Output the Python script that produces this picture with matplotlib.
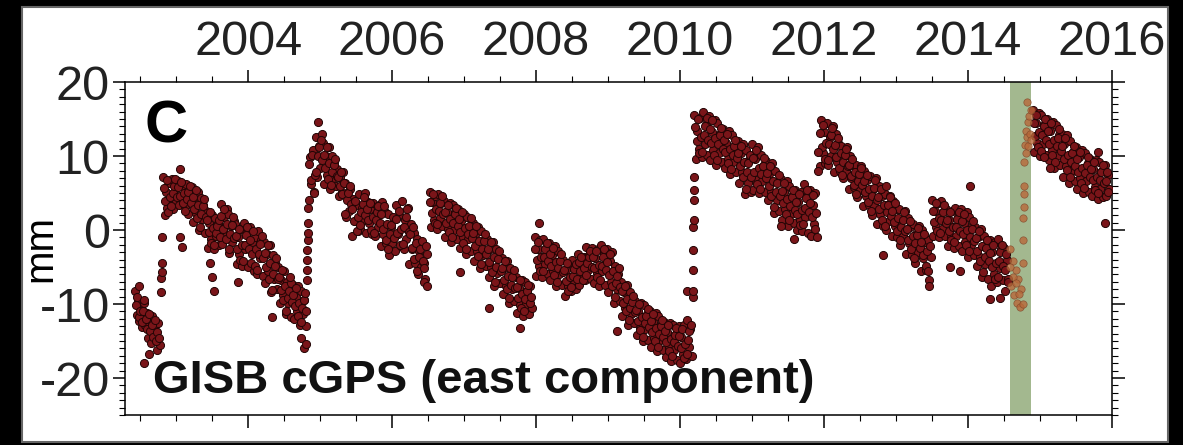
import numpy as np
import matplotlib
matplotlib.use('Agg')
import matplotlib.pyplot as plt
from matplotlib.ticker import MultipleLocator
from matplotlib.patches import Rectangle

plt.rcParams['font.family'] = ['Liberation Sans', 'DejaVu Sans']

# GISB cGPS east component (mm).
# Each segment has two interleaved sample sets (~0.02 yr spacing each).
a_span = (2002.43, 2002.77)
a_east = [-8.2, -11.5, -9.6, -12.3, -10.4, -13.1, -9.9, -12.8, -11.2, -14.6,
          -12.0, -15.3, -11.6, -14.1, -13.0, -16.2, -12.5, -15.6]
a2_span = (2002.44, 2002.76)
a2_east = [-10.2, -9.0, -11.8, -10.9, -12.4, -11.0, -9.4, -12.0, -13.4, -11.4,
           -13.6, -12.8, -14.4, -12.2, -15.0, -13.8, -14.6]

b_span = (2002.82, 2004.80)
b_east = [7.2, 2.0, 5.1, 3.0, 6.3, 4.2, 6.9, 2.8, 5.6, 3.9,
          6.6, 3.4, 8.2, 4.6, 5.8, 3.1, 6.2, 2.2, 5.0, 4.0,
          5.8, 1.1, 4.4, 2.3, 5.2, 0.0, 4.3, 1.5, 3.4, -0.4,
          2.6, -2.4, 1.0, -1.2, 2.0, -2.5, 1.6, -0.8, 0.8, -2.0,
          3.5, -1.9, 1.8, -0.6, 2.9, 2.2, -3.1, 0.6, -1.6, 1.2,
          0.8, -4.6, -1.0, -3.2, 0.2, -4.8, 1.0, -2.6, -0.4, -5.0,
          0.4, -4.4, -1.6, -5.6, -0.9, -5.9, -0.2, -3.8, -1.4, -6.2,
          -1.6, -7.2, -3.3, -5.6, -2.0, -8.4, -3.4, -6.6, -4.5, -8.0,
          -5.0, -9.9, -6.8, -8.8, -5.6, -11.4, -7.0, -9.8, -8.0, -11.8,
          -7.4, -12.0, -9.0, -11.0, -7.6, -12.8, -8.2, -11.4, -9.4, -13.0]
b2_span = (2002.83, 2004.81)
b2_east = [5.7, 3.9, 6.8, 2.4, 4.5, 3.2, 5.0, 6.0, 6.9, 4.5,
           5.8, 4.6, 6.5, 3.6, 5.0, 2.6, 4.2, 5.1, 5.9, 3.7,
           4.4, 2.9, 5.4, 1.6, 3.4, 0.4, 2.2, 3.2, 4.2, 1.7,
           1.4, -0.3, 2.4, -1.7, 0.3, -2.0, -0.4, 0.5, 1.3, -0.9,
           1.9, 0.2, 2.9, -1.2, 0.8, -2.6, -0.5, 0.7, 1.8, -1.1,
           -0.8, -2.6, 0.2, -4.1, -2.0, -4.2, -2.0, -0.7, 0.4, -2.6,
           -1.3, -3.2, -0.2, -4.8, -2.6, -5.4, -3.2, -1.9, -0.8, -3.8,
           -3.1, -5.0, -2.0, -6.6, -4.4, -8.1, -6.0, -4.8, -3.8, -6.6,
           -6.4, -8.1, -5.4, -9.5, -7.5, -11.0, -9.2, -8.2, -7.2, -9.7,
           -8.8, -10.3, -7.8, -11.6, -9.8, -12.4, -10.5, -9.4, -8.5, -11.0]

c_span = (2004.84, 2006.48)
c_east = [4.0, 9.8, 6.2, 10.8, 5.1, 12.6, 7.2, 11.4, 8.4, 13.0,
          11.8, 6.2, 10.0, 7.4, 11.2, 5.6, 10.0, 7.0, 9.2, 6.0,
          8.2, 4.6, 7.2, 5.2, 7.8, 6.4, 1.8, 4.8, 2.6, 5.6,
          -0.8, 4.2, 1.2, 3.4, -0.2, 4.8, 0.2, 3.0, 1.4, 5.0,
          -0.4, 3.8, 1.0, 2.8, -0.6, 3.6, -0.8, 2.2, 0.4, 3.4,
          -2.2, 3.8, -0.6, 2.4, -1.8, 2.1, -3.4, 0.4, -1.8, 1.6,
          -2.8, 3.4, -0.6, 2.0, -2.2, 3.9, -2.6, 1.4, -1.2, 3.0,
          -4.6, 0.8, -2.6, -0.4, -4.4, -1.2, -6.0, -2.8, -5.0, -1.6,
          -4.4, -6.6, -3.2]
c2_span = (2004.85, 2006.47)
c2_east = [8.9, 6.8, 10.1, 5.0, 7.5, 7.9, 10.0, 11.2, 12.2, 9.4,
           10.2, 8.4, 11.2, 6.9, 9.0, 6.1, 7.8, 8.8, 9.6, 7.3,
           7.1, 5.9, 7.8, 4.9, 6.3, 2.2, 4.0, 5.0, 6.0, 3.5,
           2.9, 1.2, 3.9, -0.2, 1.8, 0.7, 2.5, 3.5, 4.4, 2.0,
           2.8, 1.3, 3.7, 0.0, 1.8, -0.4, 1.4, 2.4, 3.3, 0.9,
           2.1, 0.2, 3.2, -1.4, 0.8, -2.6, -0.5, 0.7, 1.8, -1.1,
           1.5, -0.4, 2.6, -2.0, 0.2, -1.9, 0.4, 1.7, 2.9, -0.3,
           -0.6, -2.4, 0.4, -3.9, -1.8, -5.6, -3.6, -2.5, -1.5, -4.2,
           -5.2, -2.2]

d_span = (2006.52, 2007.94)
d_east = [5.2, 0.4, 3.8, 1.4, 4.6, 0.2, 4.9, 1.6, 3.6, 0.6,
          3.9, -0.9, 2.4, 0.2, 3.6, -1.6, 3.4, 0.0, 2.4, -1.2,
          2.9, -2.4, 1.2, -1.0, 2.2, -3.2, 1.8, -1.2, 0.6, -2.8,
          0.9, -4.2, -0.4, -2.8, 0.4, -5.2, -0.1, -3.4, -1.4, -4.9,
          -1.2, -6.3, -2.6, -5.0, -1.6, -7.6, -2.6, -5.8, -3.6, -7.2,
          -3.8, -8.6, -5.2, -7.6, -4.2, -9.8, -5.2, -8.0, -6.2, -9.6,
          -6.4, -11.2, -7.8, -10.2, -6.8, -11.6, -7.0, -10.0, -8.2, -11.4,
          -7.6, -10.6]
d2_span = (2006.53, 2007.93)
d2_east = [3.8, 2.3, 4.8, 1.0, 2.8, 0.8, 2.6, 3.6, 4.6, 2.1,
           2.5, 1.0, 3.4, -0.3, 1.5, -0.9, 1.0, 2.1, 3.0, 0.5,
           1.5, -0.3, 2.5, -1.7, 0.3, -2.5, -0.5, 0.6, 1.6, -1.1,
           -0.4, -2.1, 0.6, -3.5, -1.5, -4.6, -2.6, -1.5, -0.5, -3.2,
           -2.6, -4.3, -1.6, -5.7, -3.7, -7.0, -5.0, -3.9, -2.9, -5.6,
           -5.2, -6.7, -4.2, -8.0, -6.2, -9.2, -7.4, -6.4, -5.4, -7.9,
           -7.7, -9.2, -6.8, -10.5, -8.7, -11.0, -9.3, -8.3, -7.4, -9.8,
           -9.0]

e_span = (2007.98, 2010.16)
e_east = [-1.0, -6.2, -2.6, -4.8, -1.4, -6.4, -1.2, -4.6, -2.4, -6.0,
          -1.8, -6.8, -3.4, -5.6, -2.2, -7.6, -2.8, -6.0, -4.0, -7.4,
          -4.0, -8.9, -5.4, -7.6, -4.4, -8.2, -4.1, -6.8, -5.0, -8.0,
          -3.2, -7.4, -4.4, -6.4, -3.6, -6.8, -2.3, -5.4, -3.4, -6.6,
          -2.4, -7.1, -3.8, -5.8, -2.6, -7.6, -2.0, -5.6, -3.2, -7.4,
          -2.6, -8.4, -4.2, -7.0, -3.0, -9.8, -4.8, -8.0, -6.0, -9.6,
          -7.0, -11.6, -8.4, -10.6, -7.4, -12.8, -8.4, -11.4, -9.6, -12.6,
          -9.6, -14.2, -11.0, -13.2, -9.8, -15.0, -10.2, -13.4, -11.4, -14.8,
          -11.0, -15.8, -12.4, -14.6, -11.2, -16.4, -11.6, -14.8, -12.8, -16.2,
          -12.4, -17.1, -13.8, -16.0, -12.6, -17.7, -12.8, -16.2, -14.0, -17.6,
          -13.0, -18.0, -14.4, -16.8, -12.9, -17.4, -12.2, -15.8, -13.4, -17.0]
e2_span = (2007.99, 2010.15)
e2_east = [-2.5, -4.1, -1.6, -5.5, -3.6, -5.6, -3.7, -2.6, -1.7, -4.2,
           -3.3, -4.8, -2.4, -6.1, -4.3, -7.0, -5.2, -4.2, -3.3, -5.7,
           -5.4, -6.9, -4.5, -8.2, -6.4, -7.7, -6.2, -5.3, -4.6, -6.6,
           -4.3, -5.6, -3.6, -6.7, -5.2, -6.1, -4.5, -3.6, -2.8, -5.0,
           -3.7, -5.2, -2.9, -6.4, -4.7, -6.8, -4.8, -3.6, -2.6, -5.4,
           -4.3, -6.1, -3.2, -7.6, -5.5, -9.0, -7.2, -6.2, -5.2, -7.7,
           -8.3, -9.8, -7.5, -11.0, -9.3, -12.2, -10.6, -9.7, -8.9, -11.1,
           -10.8, -12.3, -10.0, -13.5, -11.8, -14.4, -12.6, -11.6, -10.7, -13.1,
           -12.3, -13.8, -11.4, -15.0, -13.3, -15.8, -14.0, -13.0, -12.1, -14.5,
           -13.7, -15.2, -12.8, -16.4, -14.7, -17.0, -15.2, -14.2, -13.2, -15.7,
           -14.3, -15.9, -13.4, -17.3, -15.4, -16.7, -14.8, -13.7, -12.8]

f_span = (2010.20, 2011.90)
f_east = [15.6, 9.6, 13.4, 11.0, 15.2, 9.8, 15.9, 11.6, 14.2, 10.2,
          15.4, 9.4, 13.2, 10.8, 14.8, 8.8, 14.4, 10.4, 13.0, 9.2,
          13.6, 8.4, 11.8, 9.6, 13.4, 7.6, 12.8, 9.2, 11.4, 7.8,
          12.0, 6.4, 10.4, 7.8, 11.6, 4.8, 10.8, 6.4, 9.4, 5.2,
          11.6, 5.4, 9.6, 6.8, 11.2, 5.0, 10.2, 6.6, 8.8, 5.2,
          9.3, 4.0, 7.6, 5.2, 9.0, 2.3, 8.0, 4.0, 6.6, 2.6,
          6.9, 1.4, 5.2, 2.8, 6.6, 0.6, 6.0, 2.2, 4.6, 0.9,
          5.4, 0.0, 3.8, 1.4, 5.2, -0.2, 6.2, 1.8, 4.4, -0.4,
          5.4, -0.8, 3.4, 0.8, 5.0, -1.0]
f2_span = (2010.21, 2011.89)
f2_east = [13.9, 12.0, 15.0, 10.4, 12.6, 10.6, 12.8, 14.1, 15.2, 12.2,
           13.7, 11.8, 14.8, 10.2, 12.4, 9.5, 11.6, 12.8, 13.8, 11.0,
           12.1, 10.5, 13.0, 9.1, 11.0, 8.3, 10.2, 11.3, 12.2, 9.7,
           10.4, 8.6, 11.4, 7.2, 9.2, 5.6, 7.8, 9.0, 10.1, 7.2,
           9.7, 7.8, 10.8, 6.2, 8.4, 5.6, 7.6, 8.7, 9.7, 7.0,
           7.7, 6.0, 8.7, 4.6, 6.6, 3.1, 5.2, 6.4, 7.4, 4.6,
           5.3, 3.6, 6.3, 2.2, 4.2, 1.3, 3.3, 4.4, 5.4, 2.7,
           3.8, 2.1, 4.8, 0.7, 2.7, 0.8, 3.0, 4.3, 5.4, 2.4,
           3.6, 1.7, 4.7, 0.1, 2.3]

g_span = (2011.94, 2013.48)
g_east = [8.6, 14.8, 10.4, 13.2, 9.0, 14.4, 8.8, 12.6, 10.0, 14.0,
          7.8, 13.0, 9.2, 11.8, 8.0, 11.4, 7.0, 10.0, 8.0, 11.2,
          5.6, 10.0, 7.0, 8.8, 5.8, 8.8, 4.4, 7.6, 5.4, 8.6,
          3.2, 8.0, 4.6, 6.8, 3.4, 7.3, 2.0, 5.6, 3.2, 7.0,
          0.8, 6.0, 2.2, 4.6, 0.6, 4.8, 0.0, 3.4, 1.2, 4.6,
          -0.8, 3.9, 0.6, 2.8, -1.0, 2.8, -2.0, 1.4, -0.8, 2.6,
          -3.2, 1.6, -1.8, 0.4, -3.4, 0.8, -4.4, -0.6, -3.0, 0.6,
          -5.6, 0.0, -3.8, -1.6, -5.4, -1.4, -6.8, -3.6]
g2_span = (2011.95, 2013.47)
g2_east = [13.1, 11.2, 14.2, 9.6, 11.8, 9.5, 11.6, 12.8, 13.8, 11.0,
           11.5, 9.8, 12.5, 8.4, 10.4, 7.5, 9.2, 10.2, 11.0, 8.7,
           8.8, 7.3, 9.6, 6.1, 7.8, 4.9, 6.6, 7.6, 8.4, 6.1,
           6.6, 5.1, 7.5, 3.8, 5.6, 2.6, 4.6, 5.7, 6.7, 4.0,
           4.5, 2.8, 5.5, 1.4, 3.4, 0.6, 2.4, 3.4, 4.4, 1.9,
           2.6, 1.1, 3.6, -0.2, 1.6, -1.4, 0.4, 1.4, 2.4, -0.1,
           0.2, -1.3, 1.2, -2.6, -0.8, -3.8, -1.8, -0.7, 0.3, -2.4,
           -1.6, -3.4, -0.6, -4.9, -2.8, -5.6, -2.2]

k_span = (2013.50, 2014.56)
k_east = [4.0, -0.8, 2.6, 0.4, 3.6, -1.0, 3.9, 0.2, 2.6, -0.8,
          2.8, -2.2, 1.4, -1.0, 2.6, -2.4, 3.0, -0.8, 1.8, -2.2,
          2.9, -2.8, 1.0, -1.6, 2.4, -3.6, 1.8, -2.0, 0.6, -3.4,
          0.4, -4.9, -1.0, -3.6, 0.2, -6.4, -0.8, -4.6, -2.2, -6.6,
          -1.4, -7.6, -3.0, -6.0, -1.6, -7.0, -1.2, -5.2, -2.6, -6.8,
          -2.4, -8.2, -4.0, -6.6]
k2_span = (2013.51, 2014.55)
k2_east = [2.6, 1.1, 3.6, -0.2, 1.6, -0.4, 1.4, 2.4, 3.4, 0.9,
           1.4, -0.1, 2.4, -1.4, 0.4, -1.6, 0.4, 1.5, 2.5, -0.2,
           1.2, -0.6, 2.2, -2.0, 0.0, -2.9, -0.9, 0.2, 1.2, -1.5,
           -1.1, -2.8, -0.1, -4.2, -2.2, -5.7, -3.6, -2.4, -1.4, -4.2,
           -3.1, -5.0, -2.0, -6.6, -4.4, -6.3, -4.2, -3.0, -2.0, -4.8,
           -5.4, -3.2, -7.0]

h_span = (2014.90, 2015.96)
h_east = [16.2, 10.6, 14.4, 11.8, 15.8, 10.0, 15.6, 11.6, 14.2, 10.2,
          15.0, 9.4, 13.4, 10.8, 14.6, 8.4, 14.2, 10.0, 12.8, 8.8,
          13.0, 7.2, 11.6, 8.6, 12.8, 6.4, 12.0, 8.0, 10.6, 6.6,
          11.2, 5.6, 9.8, 7.0, 10.8, 5.0, 10.4, 6.6, 9.0, 5.2,
          9.6, 4.6, 8.2, 5.8, 9.4, 4.2, 9.2, 5.6, 8.0, 4.4,
          8.8, 4.6, 7.4, 5.6]
h2_span = (2014.91, 2015.95)
h2_east = [14.5, 12.7, 15.6, 11.2, 13.3, 10.7, 12.8, 14.0, 15.0, 12.2,
           13.4, 11.6, 14.4, 10.1, 12.2, 9.2, 11.3, 12.5, 13.6, 10.7,
           11.4, 9.6, 12.4, 8.1, 10.2, 7.1, 9.2, 10.4, 11.4, 8.6,
           9.6, 7.8, 10.6, 6.3, 8.4, 5.7, 7.7, 8.8, 9.8, 7.1,
           8.2, 6.7, 9.2, 5.4, 7.2, 5.0, 6.8, 7.8, 8.8, 6.3,
           6.6, 7.8, 5.2]

# offsets between segments and isolated points
jump_t = [2002.48, 2002.55, 2002.62, 2002.79, 2002.79, 2002.80, 2002.80, 2002.81,
          2003.05, 2003.08, 2003.47, 2003.50, 2003.52, 2003.86, 2004.33, 2004.58,
          2004.74, 2004.78, 2004.80,
          2004.82, 2004.82, 2004.82, 2004.82, 2004.83, 2004.83, 2004.83, 2004.83,
          2004.97, 2006.45, 2006.48, 2006.95, 2007.35, 2007.77,
          2008.04, 2009.12, 2010.10,
          2010.18, 2010.18, 2010.18, 2010.18, 2010.18, 2010.19, 2010.19, 2010.19, 2010.19,
          2011.40, 2011.58, 2011.92, 2011.92,
          2012.82, 2012.86, 2013.46, 2013.75, 2013.89, 2014.03, 2014.31, 2014.44,
          2015.05, 2015.14, 2015.80, 2015.90]
jump_e = [-7.6, -18.0, -16.8, -8.4, -6.5, -5.7, -4.5, -1.0,
          -1.0, -2.3, -4.5, -6.3, -8.2, -7.0, -11.8, -6.4,
          -14.6, -16.0, -15.4,
          -6.8, -5.4, -4.1, -2.7, -1.4, -0.4, 1.0, 3.0,
          14.6, -7.0, -7.6, -5.7, -10.5, -13.2,
          1.0, -13.6, -8.2,
          -9.1, -8.2, -5.4, -2.7, 0.4, 1.4, 4.1, 5.4, 7.2,
          0.5, -1.2, 8.0, 10.5,
          -3.4, 5.9, -7.6, -5.0, -5.6, 5.9, -9.3, -9.2,
          9.8, 8.4, 10.6, 1.0]

# 2014 transient (shaded interval)
trans_t = [2014.58, 2014.60, 2014.62, 2014.64, 2014.66, 2014.68, 2014.70, 2014.72,
           2014.74, 2014.76, 2014.77, 2014.77, 2014.77, 2014.78, 2014.78, 2014.78,
           2014.78, 2014.79, 2014.80, 2014.81, 2014.82, 2014.83, 2014.84, 2014.85,
           2014.86, 2014.87, 2014.88, 2014.82, 2014.59, 2014.63, 2014.67, 2014.71]
trans_e = [-2.6, -7.6, -4.2, -8.8, -5.4, -9.8, -6.6, -10.4,
           -8.0, -10.0, -4.4, -1.4, 1.6, 3.1, 4.8, 5.9,
           9.2, 11.5, 13.4, 10.4, 12.6, 14.6, 11.4, 15.4,
           13.0, 16.2, 12.2, 17.3, -5.0, -6.4, -7.2, -8.6]
sse_band = (2014.58, 2014.88)

year_ticks = [2004, 2006, 2008, 2010, 2012, 2014, 2016]
mm_ticks = [-20, -10, 0, 10, 20]

segments = [(a_span, a_east), (a2_span, a2_east), (b_span, b_east), (b2_span, b2_east),
            (c_span, c_east), (c2_span, c2_east), (d_span, d_east), (d2_span, d2_east),
            (e_span, e_east), (e2_span, e2_east), (f_span, f_east), (f2_span, f2_east),
            (g_span, g_east), (g2_span, g2_east), (k_span, k_east), (k2_span, k2_east),
            (h_span, h_east), (h2_span, h2_east)]

t_all = []
e_all = []
for span, vals in segments:
    t_all.extend(np.linspace(span[0], span[1], len(vals)))
    e_all.extend(vals)
t_all.extend(jump_t)
e_all.extend(jump_e)

fig = plt.figure(figsize=(11.83, 4.45), dpi=100)
fig.patch.set_facecolor('black')

# white panel behind the plot
fig.add_artist(Rectangle((22 / 1183, 3 / 445), 1146 / 1183, 435 / 445,
                         transform=fig.transFigure, facecolor='white',
                         edgecolor='#666666', lw=1.5, zorder=0))

ax = fig.add_axes([125 / 1183, 30 / 445, 987 / 1183, 333 / 445])

ax.axvspan(sse_band[0], sse_band[1], color='#a3b88f', lw=0, zorder=1)
ax.scatter(t_all, e_all, s=34, c='#7a1519', edgecolors='#220505',
           linewidths=0.7, zorder=3)
ax.scatter(trans_t, trans_e, s=28, c='#b8683a', edgecolors='#80472a',
           linewidths=0.5, alpha=0.8, zorder=4)

ax.set_xlim(2002.29, 2016.0)
ax.set_ylim(-25, 20)

ax.set_xticks(year_ticks)
ax.set_xticklabels([str(y) for y in year_ticks])
ax.xaxis.set_minor_locator(MultipleLocator(0.5))
ax.set_yticks(mm_ticks)
ax.set_yticklabels([str(v) for v in mm_ticks])
ax.yaxis.set_minor_locator(MultipleLocator(1))

ax.tick_params(axis='x', which='both', direction='out', top=True, bottom=True,
               labeltop=True, labelbottom=False)
ax.tick_params(axis='y', which='both', direction='out', left=True, right=True,
               labelleft=True, labelright=False)
ax.tick_params(which='major', length=9, width=1.1, labelsize=35,
               labelcolor='#222222')
ax.tick_params(which='minor', length=4.5, width=0.8)
ax.tick_params(axis='x', pad=3)
ax.tick_params(axis='y', pad=2)

for s in ax.spines.values():
    s.set_linewidth(1.1)

ax.set_ylabel('mm', fontsize=29, family=['Liberation Sans Narrow', 'Liberation Sans'])
ax.yaxis.set_label_coords(-0.066, 0.5)

ax.text(0.020, 0.817, 'C', transform=ax.transAxes, fontsize=43, fontweight='bold',
        family=['Liberation Sans Narrow', 'Liberation Sans'], va='baseline', ha='left')
ax.text(0.028, 0.066, 'GISB cGPS (east component)', transform=ax.transAxes,
        fontsize=34, fontweight='bold', va='baseline', ha='left', color='#111111')

fig.savefig('out.png', dpi=100, facecolor=fig.get_facecolor())
